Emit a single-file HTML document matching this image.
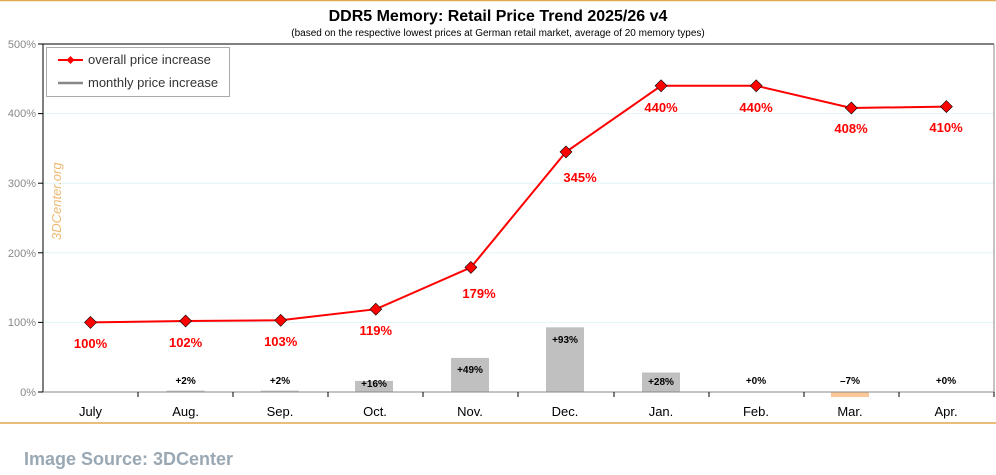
<!DOCTYPE html>
<html><head><meta charset="utf-8"><style>
body{margin:0;background:#fff;width:996px;height:470px;overflow:hidden;font-family:"Liberation Sans",sans-serif}
</style></head><body>
<svg width="996" height="470" xmlns="http://www.w3.org/2000/svg" font-family="Liberation Sans, sans-serif">
<line x1="0" y1="0.5" x2="996" y2="0.5" stroke="#e0a94f" stroke-width="1.5"/>
<line x1="0" y1="423" x2="996" y2="423" stroke="#e0a94f" stroke-width="1.5"/>
<text x="498" y="21" text-anchor="middle" font-size="16" font-weight="bold">DDR5 Memory: Retail Price Trend 2025/26 v4</text>
<text x="498" y="36" text-anchor="middle" font-size="10">(based on the respective lowest prices at German retail market, average of 20 memory types)</text>
<g stroke="#dff6f8" stroke-width="1">
<line x1="43" y1="113.6" x2="994" y2="113.6"/><line x1="43" y1="183.2" x2="994" y2="183.2"/><line x1="43" y1="252.8" x2="994" y2="252.8"/><line x1="43" y1="322.4" x2="994" y2="322.4"/>
</g>
<line x1="43" y1="44" x2="994" y2="44" stroke="#000"/>
<line x1="994" y1="44" x2="994" y2="392" stroke="#888"/>
<line x1="43" y1="44" x2="43" y2="392" stroke="#000"/>
<g font-size="11" fill="#888" text-anchor="end">
<text x="36" y="48">500%</text><text x="36" y="117">400%</text><text x="36" y="187">300%</text><text x="36" y="257">200%</text><text x="36" y="326">100%</text><text x="36" y="396">0%</text>
</g>
<g stroke="#000"><line x1="38" y1="44" x2="43" y2="44"/><line x1="38" y1="113.6" x2="43" y2="113.6"/><line x1="38" y1="183.2" x2="43" y2="183.2"/><line x1="38" y1="252.8" x2="43" y2="252.8"/><line x1="38" y1="322.4" x2="43" y2="322.4"/><line x1="38" y1="392" x2="43" y2="392"/></g>
<text transform="translate(61,240) rotate(-90)" font-size="13" font-style="italic" fill="#f0b870">3DCenter.org</text>
<g fill="#c0c0c0">
<rect x="166.6" y="390.6" width="38" height="1.4"/><rect x="260.7" y="390.6" width="38" height="1.4"/>
<rect x="355" y="380.9" width="38" height="11.1"/><rect x="451" y="357.9" width="38" height="34.1"/>
<rect x="546" y="327.3" width="38" height="64.7"/><rect x="642" y="372.5" width="38" height="19.5"/>
</g>
<rect x="831" y="392" width="38" height="5" fill="#fac896"/>
<line x1="43" y1="392" x2="994" y2="392" stroke="#888"/>
<g stroke="#000">
<line x1="138" y1="392" x2="138" y2="397"/><line x1="233" y1="392" x2="233" y2="397"/><line x1="328" y1="392" x2="328" y2="397"/><line x1="423" y1="392" x2="423" y2="397"/><line x1="518" y1="392" x2="518" y2="397"/><line x1="614" y1="392" x2="614" y2="397"/><line x1="709" y1="392" x2="709" y2="397"/><line x1="804" y1="392" x2="804" y2="397"/><line x1="899" y1="392" x2="899" y2="397"/><line x1="994" y1="392" x2="994" y2="397"/>
</g>
<g font-size="10" font-weight="bold" text-anchor="middle">
<text x="185.6" y="384">+2%</text><text x="280" y="384">+2%</text><text x="374" y="387">+16%</text><text x="470" y="373">+49%</text><text x="565" y="343">+93%</text><text x="661" y="385">+28%</text><text x="756" y="384">+0%</text><text x="850" y="384">–7%</text><text x="946" y="384">+0%</text>
</g>
<g font-size="13" text-anchor="middle">
<text x="90.5" y="416">July</text><text x="185.6" y="416">Aug.</text><text x="280" y="416">Sep.</text><text x="375" y="416">Oct.</text><text x="470" y="416">Nov.</text><text x="565" y="416">Dec.</text><text x="661" y="416">Jan.</text><text x="756" y="416">Feb.</text><text x="850" y="416">Mar.</text><text x="946" y="416">Apr.</text>
</g>
<polyline fill="none" stroke="#f00" stroke-width="2" points="90.5,322.4 185.6,321 280.7,320.3 375.8,309.2 470.9,267.4 566,151.9 661.1,85.8 756.2,85.8 851.3,108 946.4,106.6"/>
<g fill="#f00" stroke="#000" stroke-width="0.6">
<path d="M90.5,316.4l6,6l-6,6l-6,-6z"/><path d="M185.6,315l6,6l-6,6l-6,-6z"/><path d="M280.7,314.3l6,6l-6,6l-6,-6z"/><path d="M375.8,303.2l6,6l-6,6l-6,-6z"/><path d="M470.9,261.4l6,6l-6,6l-6,-6z"/><path d="M566,145.9l6,6l-6,6l-6,-6z"/><path d="M661.1,79.8l6,6l-6,6l-6,-6z"/><path d="M756.2,79.8l6,6l-6,6l-6,-6z"/><path d="M851.3,102l6,6l-6,6l-6,-6z"/><path d="M946.4,100.6l6,6l-6,6l-6,-6z"/>
</g>
<g font-size="13" font-weight="bold" fill="#f00" text-anchor="middle">
<text x="90.5" y="348">100%</text><text x="185.6" y="347">102%</text><text x="280.7" y="346">103%</text><text x="375.8" y="335">119%</text><text x="479" y="298">179%</text><text x="580" y="182">345%</text><text x="661" y="112">440%</text><text x="756" y="112">440%</text><text x="851" y="133">408%</text><text x="946" y="132">410%</text>
</g>
<rect x="46.5" y="47.5" width="183" height="49" fill="#fff" stroke="#aaa"/>
<line x1="58" y1="60" x2="83" y2="60" stroke="#f00" stroke-width="2"/><path d="M70.5,56l4,4l-4,4l-4,-4z" fill="#f00"/>
<text x="88" y="64" font-size="13" fill="#333">overall price increase</text>
<line x1="58" y1="83" x2="83" y2="83" stroke="#888" stroke-width="2.5"/>
<text x="88" y="87" font-size="13" fill="#333">monthly price increase</text>
<text x="24" y="465" font-size="18" font-weight="bold" fill="#9aa8b4">Image Source: 3DCenter</text>
</svg>
</body></html>
